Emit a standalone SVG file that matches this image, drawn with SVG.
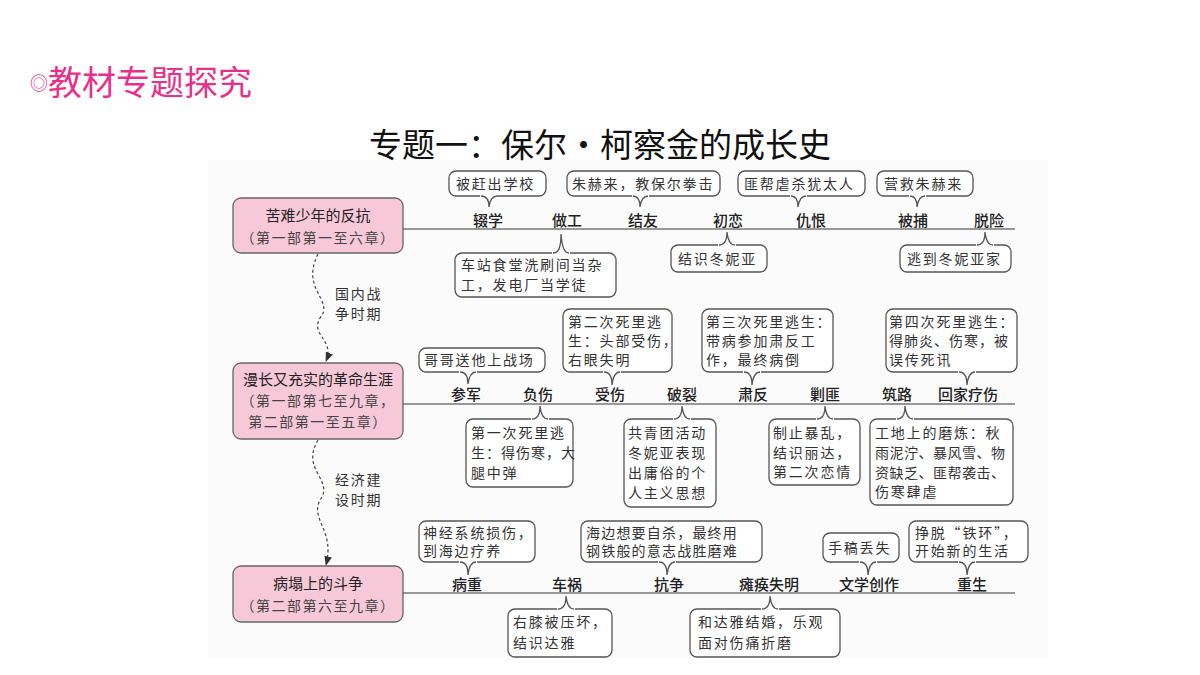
<svg xmlns="http://www.w3.org/2000/svg" width="1200" height="675" viewBox="0 0 1200 675">
<style>
.b{fill:#fff;stroke:#555;stroke-width:1.3}
.t{fill:#fff;stroke:#555;stroke-width:1.3}
.c{fill:#fff;stroke:none}
.bt{font-family:"Noto Sans CJK SC",sans-serif;font-size:14px;fill:#333;letter-spacing:1.8px}
.lb{font-family:"Noto Sans CJK SC",sans-serif;font-size:15px;fill:#222;text-anchor:middle;font-weight:500}
.ln{stroke:#777;stroke-width:1.5}
.nd{fill:#f7c8d8;stroke:#666;stroke-width:1.3}
.nt{font-family:"Noto Sans CJK SC",sans-serif;font-size:15px;fill:#222;text-anchor:middle}
.ns{font-family:"Noto Sans CJK SC",sans-serif;font-size:14px;fill:#444;text-anchor:middle;letter-spacing:1.5px}
.dash{fill:none;stroke:#444;stroke-width:1.2;stroke-dasharray:3 2.5}
</style>
<defs>
<marker id="ah" viewBox="0 0 10 10" refX="9" refY="5" markerWidth="8" markerHeight="8" orient="auto"><path d="M0 1 L10 5 L0 9 Z" fill="#333"/></marker>
</defs>
<rect width="1200" height="675" fill="#fff"/>
<rect x="208" y="160" width="840" height="498" fill="#fbfbfb"/>
<text x="30" y="95" font-family="Noto Sans CJK SC,sans-serif" font-size="34" fill="#e8308a"><tspan font-size="18" dy="-5">◎</tspan><tspan dy="5">教材专题探究</tspan></text>
<text x="600" y="157" font-family="Noto Sans CJK SC,sans-serif" font-size="33" fill="#111" text-anchor="middle">专题一：保尔·柯察金的成长史</text>

<g id="connectors">
<line class="ln" x1="403" y1="229" x2="1015" y2="229"/>
<line class="ln" x1="403" y1="404" x2="1015" y2="404"/>
<line class="ln" x1="403" y1="593" x2="1015" y2="593"/>
<path class="dash" d="M318 254 C300 290 335 300 320 318 C310 335 335 340 326 361" marker-end="url(#ah)"/>
<path class="dash" d="M318 440 C300 470 335 480 320 500 C310 520 335 530 326 565" marker-end="url(#ah)"/>
<text class="bt" x="335" y="299">国内战</text><text class="bt" x="335" y="319">争时期</text>
<text class="bt" x="335" y="485">经济建</text><text class="bt" x="335" y="505">设时期</text>
</g>

<g id="n1"><rect class="nd" x="233" y="198" width="170" height="55" rx="8"/><text class="nt" x="318" y="221">苦难少年的反抗</text><text class="ns" x="318" y="243">（第一部第一至六章）</text></g>
<g id="n2"><rect class="nd" x="233" y="363" width="170" height="76" rx="8"/><text class="nt" x="318" y="385">漫长又充实的革命生涯</text><text class="ns" x="318" y="406">（第一部第七至九章，</text><text class="ns" x="318" y="427">第二部第一至五章）</text></g>
<g id="n3"><rect class="nd" x="233" y="566" width="170" height="56" rx="8"/><text class="nt" x="318" y="589">病塌上的斗争</text><text class="ns" x="318" y="611">（第二部第六至九章）</text></g>

<g id="labels">
<text class="lb" x="488" y="226">辍学</text><text class="lb" x="567" y="226">做工</text><text class="lb" x="643" y="226">结友</text><text class="lb" x="728" y="226">初恋</text><text class="lb" x="811" y="226">仇恨</text><text class="lb" x="913" y="226">被捕</text><text class="lb" x="989" y="226">脱险</text>
<text class="lb" x="466" y="400">参军</text><text class="lb" x="538" y="400">负伤</text><text class="lb" x="610" y="400">受伤</text><text class="lb" x="682" y="400">破裂</text><text class="lb" x="753" y="400">肃反</text><text class="lb" x="825" y="400">剿匪</text><text class="lb" x="897" y="400">筑路</text><text class="lb" x="968" y="400">回家疗伤</text>
<text class="lb" x="467" y="590">病重</text><text class="lb" x="567" y="590">车祸</text><text class="lb" x="669" y="590">抗争</text><text class="lb" x="769" y="590">瘫痪失明</text><text class="lb" x="869" y="590">文学创作</text><text class="lb" x="972" y="590">重生</text>
</g>

<g id="b1"><rect class="b" x="449" y="171" width="97" height="25" rx="7"/><rect class="c" x="480" y="194" width="17" height="4"/><path class="t" style="fill:none" d="M481 196 C487 196 489 200 489 207 C490 200 492 196 497 196"/><text class="bt" x="456" y="189">被赶出学校</text></g>
<g id="b2"><rect class="b" x="567" y="171" width="153" height="25" rx="7"/><rect class="c" x="632" y="194" width="17" height="4"/><path class="t" style="fill:none" d="M633 196 C638 196 640 200 640 207 C641 200 643 196 648 196"/><text class="bt" x="572" y="189">朱赫来，教保尔拳击</text></g>
<g id="b3"><rect class="b" x="738" y="171" width="127" height="25" rx="7"/><rect class="c" x="790" y="194" width="17" height="4"/><path class="t" style="fill:none" d="M791 196 C796 196 798 200 798 207 C799 200 801 196 806 196"/><text class="bt" x="744" y="189">匪帮虐杀犹太人</text></g>
<g id="b4"><rect class="b" x="877" y="171" width="96" height="25" rx="7"/><rect class="c" x="909" y="194" width="17" height="4"/><path class="t" style="fill:none" d="M910 196 C915 196 917 200 917 207 C918 200 920 196 925 196"/><text class="bt" x="884" y="189">营救朱赫来</text></g>
<g id="b5"><rect class="b" x="455" y="253" width="161" height="44" rx="7"/><rect class="c" x="552" y="251" width="18" height="4"/><path class="t" style="fill:none" d="M553 253 C558 253 561 249 561 234 C562 249 565 253 569 253"/><text class="bt" x="461" y="270">车站食堂洗刷间当杂</text><text class="bt" x="461" y="290">工，发电厂当学徒</text></g>
<g id="b6"><rect class="b" x="671" y="245" width="96" height="27" rx="7"/><rect class="c" x="718" y="243" width="18" height="4"/><path class="t" style="fill:none" d="M719 245 C724 245 727 242 727 232 C728 242 731 245 735 245"/><text class="bt" x="678" y="264">结识冬妮亚</text></g>
<g id="b7"><rect class="b" x="900" y="245" width="111" height="27" rx="7"/><rect class="c" x="976" y="243" width="18" height="4"/><path class="t" style="fill:none" d="M977 245 C982 245 985 242 985 232 C986 242 989 245 993 245"/><text class="bt" x="907" y="264">逃到冬妮亚家</text></g>

<g id="b8"><rect class="b" x="419" y="348" width="126" height="24" rx="7"/><rect class="c" x="459" y="370" width="18" height="4"/><path class="t" style="fill:none" d="M460 372 C465 372 468 376 468 384 C469 376 472 372 476 372"/><text class="bt" x="424" y="365">哥哥送他上战场</text></g>
<g id="b9"><rect class="b" x="563" y="309" width="109" height="63" rx="7"/><rect class="c" x="603" y="370" width="18" height="4"/><path class="t" style="fill:none" d="M604 372 C609 372 612 376 612 385 C613 376 616 372 620 372"/><text class="bt" x="568" y="327">第二次死里逃</text><text class="bt" x="568" y="346">生：头部受伤，</text><text class="bt" x="568" y="365">右眼失明</text></g>
<g id="b10"><rect class="b" x="702" y="309" width="131" height="63" rx="7"/><rect class="c" x="743" y="370" width="18" height="4"/><path class="t" style="fill:none" d="M744 372 C749 372 752 376 752 385 C753 376 756 372 760 372"/><text class="bt" x="706" y="327">第三次死里逃生：</text><text class="bt" x="706" y="346">带病参加肃反工</text><text class="bt" x="706" y="365">作，最终病倒</text></g>
<g id="b11"><rect class="b" x="886" y="309" width="131" height="63" rx="7"/><rect class="c" x="958" y="370" width="18" height="4"/><path class="t" style="fill:none" d="M959 372 C964 372 967 376 967 385 C968 376 971 372 975 372"/><text class="bt" x="889" y="327">第四次死里逃生：</text><text class="bt" x="889" y="346" style="letter-spacing:1px">得肺炎、伤寒，被</text><text class="bt" x="889" y="365">误传死讯</text></g>
<g id="b12"><rect class="b" x="466" y="419" width="107" height="68" rx="7"/><rect class="c" x="531" y="417" width="18" height="4"/><path class="t" style="fill:none" d="M532 419 C537 419 540 416 540 406 C541 416 544 419 548 419"/><text class="bt" x="471" y="438">第一次死里逃</text><text class="bt" x="471" y="458" style="letter-spacing:1px">生：得伤寒，大</text><text class="bt" x="471" y="478">腿中弹</text></g>
<g id="b13"><rect class="b" x="624" y="419" width="92" height="88" rx="7"/><rect class="c" x="673" y="417" width="18" height="4"/><path class="t" style="fill:none" d="M674 419 C679 419 682 416 682 406 C683 416 686 419 690 419"/><text class="bt" x="628" y="438">共青团活动</text><text class="bt" x="628" y="458">冬妮亚表现</text><text class="bt" x="628" y="478">出庸俗的个</text><text class="bt" x="628" y="498">人主义思想</text></g>
<g id="b14"><rect class="b" x="769" y="419" width="91" height="66" rx="7"/><rect class="c" x="816" y="417" width="18" height="4"/><path class="t" style="fill:none" d="M817 419 C822 419 825 416 825 406 C826 416 829 419 833 419"/><text class="bt" x="773" y="438">制止暴乱，</text><text class="bt" x="773" y="458">结识丽达，</text><text class="bt" x="773" y="477">第二次恋情</text></g>
<g id="b15"><rect class="b" x="870" y="419" width="143" height="86" rx="7"/><rect class="c" x="896" y="417" width="18" height="4"/><path class="t" style="fill:none" d="M897 419 C902 419 905 416 905 406 C906 416 909 419 913 419"/><text class="bt" x="875" y="438">工地上的磨炼：秋</text><text class="bt" x="875" y="458" style="letter-spacing:0.5px">雨泥泞、暴风雪、物</text><text class="bt" x="875" y="478" style="letter-spacing:0.5px">资缺乏、匪帮袭击、</text><text class="bt" x="875" y="497">伤寒肆虐</text></g>

<g id="b16"><rect class="b" x="419" y="521" width="116" height="41" rx="7"/><rect class="c" x="459" y="560" width="18" height="4"/><path class="t" style="fill:none" d="M460 562 C465 562 468 566 468 575 C469 566 472 562 476 562"/><text class="bt" x="423" y="538">神经系统损伤，</text><text class="bt" x="423" y="556">到海边疗养</text></g>
<g id="b17"><rect class="b" x="581" y="521" width="181" height="41" rx="7"/><rect class="c" x="658" y="560" width="18" height="4"/><path class="t" style="fill:none" d="M659 562 C664 562 667 566 667 575 C668 566 671 562 675 562"/><text class="bt" x="586" y="538" style="letter-spacing:1.2px">海边想要自杀，最终用</text><text class="bt" x="586" y="556" style="letter-spacing:1.2px">钢铁般的意志战胜磨难</text></g>
<g id="b18"><rect class="b" x="823" y="533" width="76" height="29" rx="7"/><rect class="c" x="859" y="560" width="18" height="4"/><path class="t" style="fill:none" d="M860 562 C865 562 868 566 868 575 C869 566 872 562 876 562"/><text class="bt" x="828" y="553">手稿丢失</text></g>
<g id="b19"><rect class="b" x="909" y="521" width="119" height="41" rx="7"/><rect class="c" x="958" y="560" width="18" height="4"/><path class="t" style="fill:none" d="M959 562 C964 562 967 566 967 575 C968 566 971 562 975 562"/><text class="bt" x="915" y="538">挣脱“铁环”，</text><text class="bt" x="915" y="556">开始新的生活</text></g>
<g id="b20"><rect class="b" x="508" y="609" width="104" height="48" rx="7"/><rect class="c" x="557" y="607" width="18" height="4"/><path class="t" style="fill:none" d="M558 609 C563 609 566 606 566 596 C567 606 570 609 574 609"/><text class="bt" x="513" y="627">右膝被压坏，</text><text class="bt" x="513" y="648">结识达雅</text></g>
<g id="b21"><rect class="b" x="690" y="609" width="150" height="48" rx="7"/><rect class="c" x="761" y="607" width="18" height="4"/><path class="t" style="fill:none" d="M762 609 C767 609 770 606 770 596 C771 606 774 609 778 609"/><text class="bt" x="698" y="627">和达雅结婚，乐观</text><text class="bt" x="698" y="648">面对伤痛折磨</text></g>
</svg>
